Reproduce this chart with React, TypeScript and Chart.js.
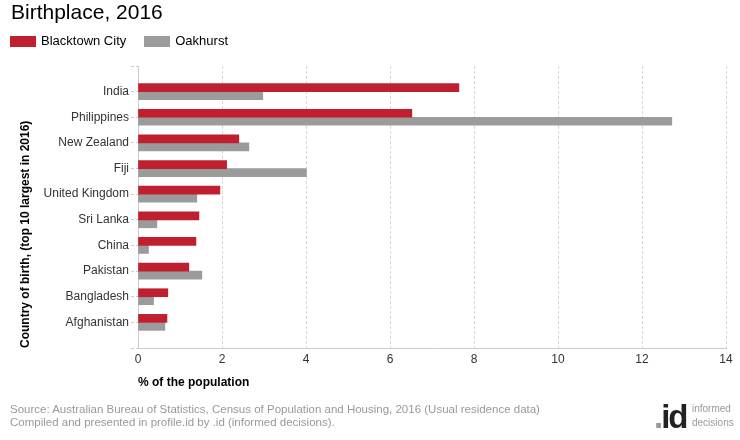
import React, { useEffect, useRef } from 'react';
import { Chart, registerables } from 'chart.js';

Chart.register(...registerables);

const countries = ['India', 'Philippines', 'New Zealand', 'Fiji', 'United Kingdom', 'Sri Lanka', 'China', 'Pakistan', 'Bangladesh', 'Afghanistan'];
const blacktownCity = [7.64, 6.52, 2.4, 2.11, 1.95, 1.45, 1.38, 1.21, 0.71, 0.69];
const oakhurst = [2.97, 12.71, 2.64, 4.01, 1.4, 0.45, 0.25, 1.52, 0.37, 0.64];
const xMin = 0;
const xMax = 14;
const xStep = 2;

const RED = '#c01f2f';
const GRAY = '#9b9b9b';
const FONT = '"Liberation Sans", Arial, Helvetica, sans-serif';

export default function App() {
  const ref = useRef<HTMLCanvasElement | null>(null);

  useEffect(() => {
    if (!ref.current) return;
    const labels = ['', ...countries, ''];
    const chart = new Chart(ref.current, {
      type: 'bar',
      data: {
        labels,
        datasets: [
          { label: 'Blacktown City', data: [null, ...blacktownCity, null], backgroundColor: RED, barThickness: 8 },
          { label: 'Oakhurst', data: [null, ...oakhurst, null], backgroundColor: GRAY, barThickness: 8 },
        ],
      },
      options: {
        indexAxis: 'y',
        animation: false,
        responsive: false,
        devicePixelRatio: 1,
        layout: { padding: { top: 66, right: 14, left: 0, bottom: 0 } },
        plugins: { legend: { display: false }, tooltip: { enabled: false }, title: { display: false } },
        scales: {
          x: {
            type: 'linear',
            min: xMin,
            max: xMax,
            ticks: { stepSize: xStep, color: '#333', font: { family: FONT, size: 12 }, padding: 4 },
            grid: {
              drawTicks: false,
              color: (c: any) => (c.index === 0 ? 'rgba(0,0,0,0)' : '#d6d6d6'),
              lineWidth: 1,
            },
            border: { display: true, color: '#cccccc', dash: [3, 2] },
            title: {
              display: true,
              text: '% of the population',
              align: 'start',
              color: '#000',
              font: { family: FONT, size: 12, weight: 'bold' },
              padding: { top: 0, bottom: 50 },
            },
            afterFit: (s: any) => { s.height = 92; },
          },
          y: {
            type: 'category',
            offset: false,
            ticks: { color: '#333', font: { family: FONT, size: 12 }, padding: 2, autoSkip: false },
            grid: {
              offset: false,
              drawOnChartArea: false,
              drawTicks: true,
              tickLength: 7,
              tickColor: '#cccccc',
              tickBorderDash: [3, 2],
            },
            border: { display: true, color: '#cccccc' },
            title: {
              display: true,
              text: 'Country of birth, (top 10 largest in 2016)',
              align: 'start',
              color: '#000',
              font: { family: FONT, size: 12, weight: 'bold' },
              padding: { top: 18, bottom: 0 },
            },
            afterFit: (s: any) => { s.width = 138; },
          },
        },
      },
    } as any);
    return () => chart.destroy();
  }, []);

  return (
    <div style={{ position: 'fixed', left: 0, top: 0, width: 740, height: 440, background: '#fff', fontFamily: FONT, overflow: 'hidden' }}>
      <canvas ref={ref} width={740} height={440} style={{ position: 'absolute', left: 0, top: 0, width: 740, height: 440 }} />
      <div style={{ position: 'absolute', left: 11, top: 0, fontSize: 21, lineHeight: '24px', color: '#000' }}>Birthplace, 2016</div>
      <div style={{ position: 'absolute', left: 10, top: 34, height: 14, display: 'flex', alignItems: 'center', fontSize: 13, color: '#000', lineHeight: '14px' }}>
        <span style={{ display: 'inline-block', width: 26, height: 11, background: RED, marginRight: 5 }} />
        <span style={{ marginRight: 18 }}>Blacktown City</span>
        <span style={{ display: 'inline-block', width: 26, height: 11, background: GRAY, marginRight: 5 }} />
        <span>Oakhurst</span>
      </div>
      <div style={{ position: 'absolute', left: 10, top: 403, fontSize: 11.5, lineHeight: '13px', color: '#999' }}>
        <div>Source: Australian Bureau of Statistics, Census of Population and Housing, 2016 (Usual residence data)</div>
        <div>Compiled and presented in profile.id by .id (informed decisions).</div>
      </div>
      <div style={{ position: 'absolute', left: 654, top: 400, fontSize: 33, fontWeight: 'bold', lineHeight: '33px', letterSpacing: -2, whiteSpace: 'nowrap' }}>
        <span style={{ color: '#999' }}>.</span><span style={{ color: '#222' }}>id</span>
      </div>
      <div style={{ position: 'absolute', left: 692, top: 402, fontSize: 10, lineHeight: '14px', color: '#999', whiteSpace: 'nowrap' }}>
        informed<br />decisions
      </div>
    </div>
  );
}
